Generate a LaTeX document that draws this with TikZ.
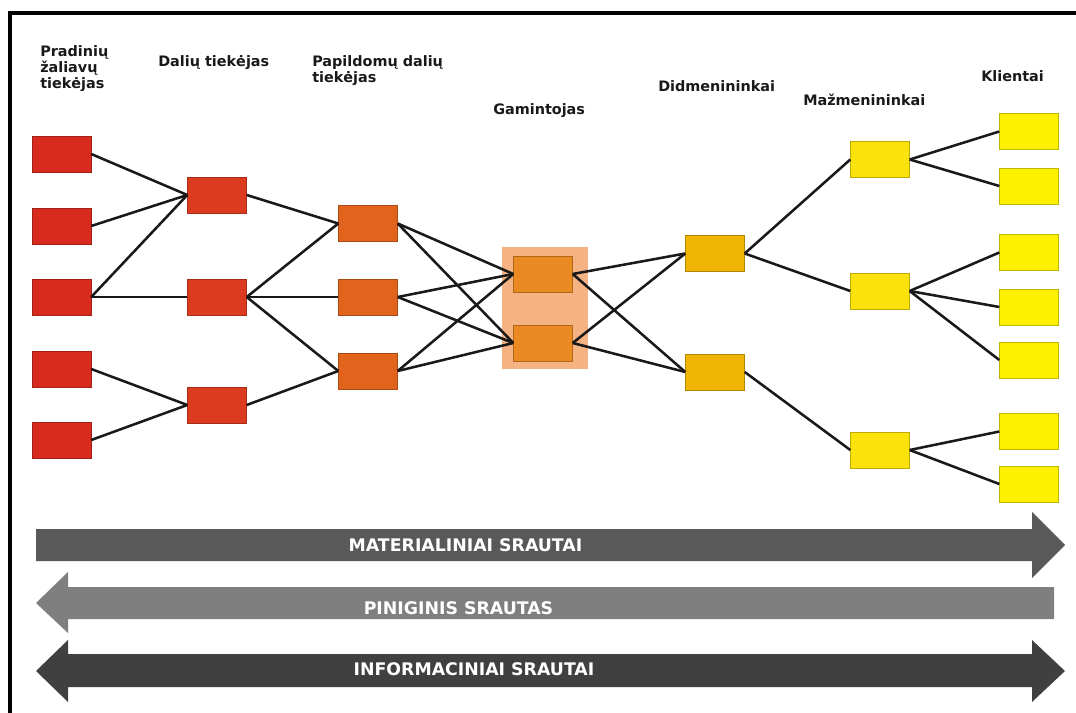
\documentclass[tikz,border=0pt]{standalone}
\usepackage{fontspec}
\setsansfont{DejaVu Sans}
\usetikzlibrary{calc}

\definecolor{raw}{HTML}{D82A1F}
\definecolor{part}{HTML}{DC3B1F}
\definecolor{extra}{HTML}{E2631C}
\definecolor{mfg}{HTML}{EB8A22}
\definecolor{mfgzone}{HTML}{F5B383}
\definecolor{whole}{HTML}{F0B402}
\definecolor{retail}{HTML}{FBE20A}
\definecolor{client}{HTML}{FEF100}
\definecolor{flowA}{HTML}{595959}
\definecolor{flowB}{HTML}{7F7F7F}
\definecolor{flowC}{HTML}{404040}

\begin{document}
\begin{tikzpicture}[x=.75pt,y=-.75pt,
  box/.style={draw=#1!75!black, line width=.3pt, fill=#1, minimum width=44.25pt, minimum height=27pt, inner sep=0pt},
  link/.style={line width=1.9pt, black!90},
  head/.style={font=\sffamily\bfseries\fontsize{10.8}{12}\selectfont, text=black!90, align=left, inner sep=0pt},
  flow/.style={font=\sffamily\bfseries\fontsize{13}{14}\selectfont, text=white, anchor=base, inner sep=0pt}]
\useasboundingbox (0,0) rectangle (1076,713);
\draw[line width=3pt] (9.5,713) -- (9.5,13.5) -- (1076,13.5);

\node[head, anchor=north west] (h1) at (40,45) {Pradinių\\žaliavų\\tiekėjas};
\node[head, anchor=base west] (h2) at (158,67) {Dalių tiekėjas};
\node[head, anchor=north west] (h3) at (312,55) {Papildomų dalių\\tiekėjas};
\node[head, anchor=base west] (h4) at (493,115) {Gamintojas};
\node[head, anchor=base west] (h5) at (658,92) {Didmenininkai};
\node[head, anchor=base west] (h6) at (803,106) {Mažmenininkai};
\node[head, anchor=base west] (h7) at (981,82) {Klientai};

\node[fill=mfgzone, minimum width=64.5pt, minimum height=91.5pt, inner sep=0pt] (zone) at (545,308) {};

\foreach \y [count=\i] in {154,226,297,369,440} \node[box=raw] (p\i) at (61.5,\y) {};
\foreach \y [count=\i] in {195,297,405} \node[box=part] (d\i) at (217,\y) {};
\foreach \y [count=\i] in {223.5,297,371} \node[box=extra] (a\i) at (368,\y) {};
\foreach \y [count=\i] in {274,343} \node[box=mfg] (g\i) at (543,\y) {};
\foreach \y [count=\i] in {253.5,372} \node[box=whole] (w\i) at (715,\y) {};
\foreach \y [count=\i] in {159.5,291,450} \node[box=retail] (r\i) at (880,\y) {};
\foreach \y [count=\i] in {131.5,186,252.5,307,360,431.5,484} \node[box=client] (k\i) at (1029,\y) {};

\foreach \a/\b in {p1/d1,p2/d1,p3/d1,p3/d2,p4/d3,p5/d3,d1/a1,d2/a1,d2/a2,d2/a3,d3/a3,
  a1/g1,a1/g2,a2/g1,a2/g2,a3/g1,a3/g2,g1/w1,g1/w2,g2/w1,g2/w2,w1/r1,w1/r2,w2/r3,
  r1/k1,r1/k2,r2/k3,r2/k4,r2/k5,r3/k6,r3/k7}
  \draw[link] (\a.east) -- (\b.west);

\fill[flowA] (36,529) -- (1032,529) -- (1032,512) -- (1065,545) -- (1032,578) -- (1032,561) -- (36,561) -- cycle;
\fill[flowB] (1054,587) -- (68,587) -- (68,572) -- (36,603) -- (68,633) -- (68,619) -- (1054,619) -- cycle;
\fill[flowC] (68,654) -- (1032,654) -- (1032,640) -- (1065,671) -- (1032,702) -- (1032,687) -- (68,687) -- (68,702) -- (36,671) -- (68,640) -- cycle;

\node[flow] (mat) at (465.5,551) {MATERIALINIAI SRAUTAI};
\node[flow] (pin) at (458.5,614) {PINIGINIS SRAUTAS};
\node[flow] (inf) at (474,675) {INFORMACINIAI SRAUTAI};
\end{tikzpicture}
\end{document}
